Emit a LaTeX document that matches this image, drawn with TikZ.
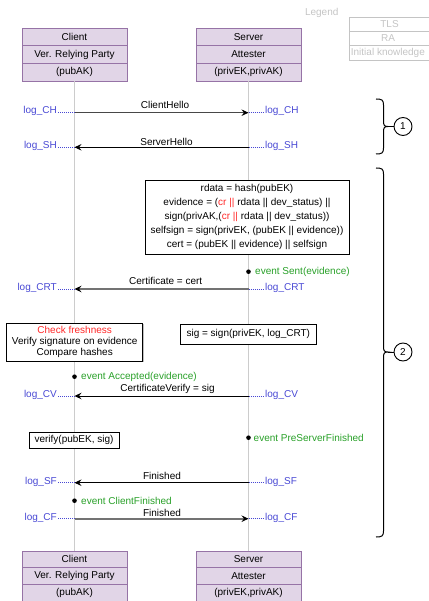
\documentclass[tikz,border=0pt]{standalone}
\usepackage{fontspec}
\setmainfont{Liberation Sans}
\usetikzlibrary{arrows.meta,shadows,calc}
\definecolor{hdrfill}{HTML}{E1D5E7}
\definecolor{hdrdraw}{HTML}{9673A6}
\definecolor{logblue}{RGB}{72,72,212}
\definecolor{evgreen}{RGB}{40,160,40}
\definecolor{hotred}{RGB}{255,40,40}
\definecolor{lifegray}{HTML}{CCCCCC}
\definecolor{legendgray}{HTML}{C4C4C4}
\newcommand{\rcr}{\textcolor{hotred}{cr ||}}
\begin{document}
\begin{tikzpicture}[x=1pt,y=-1pt,
  font=\fontsize{10}{12}\selectfont,
  hdr/.style={draw=hdrdraw, fill=hdrfill, line width=0.8pt, minimum width=105pt, inner sep=0pt},
  lifeline/.style={draw=lifegray, line width=1pt},
  msgblack/.style={draw=black, line width=0.9pt, -{Stealth[length=7pt,width=6.5pt,inset=2.5pt,color=black]}},
  msgdark/.style={draw=black!72, line width=0.9pt, -{Stealth[length=7pt,width=6.5pt,inset=2.5pt,color=black]}},
  msgthick/.style={draw=black!55, line width=1.8pt, -{Stealth[length=7pt,width=6.5pt,inset=2.5pt,color=black]}},
  lbl/.style={inner sep=0pt},
  logtxt/.style={text=logblue, inner sep=0pt},
  logdots/.style={draw=logblue, line width=0.7pt, dash pattern=on 0.8pt off 1.2pt},
  evtxt/.style={text=evgreen, inner sep=0pt, anchor=west},
  note/.style={draw=black, fill=white, line width=0.9pt, inner sep=0pt, align=center,
    drop shadow={shadow xshift=1.2pt, shadow yshift=-1.2pt, opacity=0.25, fill=black}},
  legendrow/.style={draw=legendgray, minimum width=83pt, minimum height=14.33pt, inner sep=0pt},
  legendtxt/.style={text=legendgray, inner sep=0pt},
  bracepath/.style={draw=black, line width=1pt},
  stepnum/.style={draw=black, circle, line width=0.9pt, minimum size=18pt, inner sep=0pt}
]
\useasboundingbox (0,0) rectangle (428,601);

% legend
\node[legendtxt] (legend) at (321.7,13) {Legend};
\node[legendrow] (lgTLS)  at (390.5,24.2) {};
\node[legendrow] (lgRA)   at (390.5,38.5) {};
\node[legendrow] (lgInit) at (390.5,52.8) {};
\node[legendtxt] (lgTLSt) at (389.5,24.2) {TLS};
\node[legendtxt] (lgRAt)  at (388,38.5) {RA};
\node[legendtxt, anchor=west] (lgInitt) at (350.7,52.8) {Initial knowledge};

% participant headers (top)
\begin{scope}[every node/.append style={minimum height=17.67pt}]
  \node[hdr] (cl1) at (74.5,36.8) {Client};
  \node[hdr] (cl2) at (74.5,54.5) {Ver. Relying Party};
  \node[hdr] (cl3) at (74.5,72.2) {(pubAK)};
  \node[hdr] (sv1) at (248.5,36.8) {Server};
  \node[hdr] (sv2) at (248.5,54.5) {Attester};
  \node[hdr] (sv3) at (248.5,72.2) {(privEK,privAK)};
\end{scope}
% participant footers (bottom)
\begin{scope}[every node/.append style={minimum height=16.67pt}]
  \node[hdr] (bcl1) at (74.5,559.3) {Client};
  \node[hdr] (bcl2) at (74.5,576) {Ver. Relying Party};
  \node[hdr] (bcl3) at (74.5,592.7) {(pubAK)};
  \node[hdr] (bsv1) at (248.5,559.3) {Server};
  \node[hdr] (bsv2) at (248.5,576) {Attester};
  \node[hdr] (bsv3) at (248.5,592.7) {(privEK,privAK)};
\end{scope}

% lifelines
\draw[lifeline] (cl3.south) -- (bcl1.north);
\draw[lifeline] (sv3.south) -- (bsv1.north);

% message anchor points on the lifelines
\foreach \n/\y in {CH/112.7, SH/147.3, CRT/289, CV/396, SF/482.7, CF/518.7}{
  \coordinate (c\n) at (74.5,\y);
  \coordinate (s\n) at (248.5,\y);
}

% boxes with computations
\node[note, minimum width=204pt, minimum height=74pt, font=\fontsize{10}{14}\selectfont] (evbox) at (247,217)
  {rdata = hash(pubEK)\\
   evidence = (\rcr{} rdata || dev\_status) ||\\
   sign(privAK,(\rcr{} rdata || dev\_status))\\
   selfsign = sign(privEK, (pubEK || evidence))\\
   cert = (pubEK || evidence) || selfsign};
\node[note, minimum width=136pt, minimum height=38pt, font=\fontsize{10}{11.3}\selectfont] (chkbox) at (74.7,342)
  {\textcolor{hotred}{Check freshness}\\
   Verify signature on evidence\\
   Compare hashes};
\node[note, minimum width=135.3pt, minimum height=20pt] (sigbox) at (248.3,334) {sig = sign(privEK, log\_CRT)};
\node[note, minimum width=90pt, minimum height=15.3pt] (vfybox) at (74,440.3) {verify(pubEK, sig)};

% messages
\draw[msgdark]  (cCH) -- (sCH);
\node[lbl] (tCH) at (165,105) {ClientHello};
\draw[msgblack] (sSH) -- (cSH);
\node[lbl] (tSH) at (166.5,141.7) {ServerHello};
\draw[msgthick] (sCRT) -- (cCRT);
\node[lbl] (tCRT) at (165.7,281) {Certificate = cert};
\draw[msgblack] (sCV) -- (cCV);
\node[lbl] (tCV) at (167.5,388.7) {CertificateVerify = sig};
\draw[msgblack] (sSF) -- (cSF);
\node[lbl] (tSF) at (162,476) {Finished};
\draw[msgthick] (cCF) -- (sCF);
\node[lbl] (tCF) at (162,512.7) {Finished};

% transcript labels
\foreach \n/\t in {CH/log\_CH, SH/log\_SH, CRT/log\_CRT, CV/log\_CV, SF/log\_SF, CF/log\_CF}{
  \node[logtxt, anchor=base east] (l\n) at ($(c\n)+(-17.5,1.3)$) {\t};
  \draw[logdots] ($(l\n.east |- c\n)+(1,0)$) -- (c\n);
  \node[logtxt, anchor=base west] (r\n) at ($(s\n)+(16.5,1.3)$) {\t};
  \draw[logdots] (s\n) -- ($(r\n.west |- s\n)+(-1,0)$);
}

% events
\coordinate (eSent) at (248.5,271.7);
\fill (eSent) circle (2.3);
\node[evtxt] (tSent) at (255,271.7) {event Sent(evidence)};
\coordinate (eAcc) at (74.5,376.7);
\fill (eAcc) circle (2.3);
\node[evtxt] (tAcc) at (81,376.7) {event Accepted(evidence)};
\coordinate (ePSF) at (248.5,437.7);
\fill (ePSF) circle (2.3);
\node[evtxt] (tPSF) at (253.5,437.7) {event PreServerFinished};
\coordinate (eCF) at (74.5,500.7);
\fill (eCF) circle (2.3);
\node[evtxt] (tCFev) at (81,500.7) {event ClientFinished};

% phase braces
\coordinate (b1tip) at (388,126.5);
\draw[bracepath] (376,99) .. controls (382,99) and (383.5,100) .. (383.5,105) -- (383.5,121)
  .. controls (383.5,125) and (384,126.5) .. (b1tip)
  .. controls (384,126.5) and (383.5,128) .. (383.5,132) -- (383.5,148)
  .. controls (383.5,153) and (382,154) .. (376,154);
\node[stepnum] (n1) at (403,126.5) {1};
\draw[bracepath] (b1tip) -- (n1);

\coordinate (b2tip) at (388,352);
\draw[bracepath] (376,168) .. controls (382,168) and (383.5,169) .. (383.5,174) -- (383.5,346.5)
  .. controls (383.5,350.5) and (384,352) .. (b2tip)
  .. controls (384,352) and (383.5,353.5) .. (383.5,357.5) -- (383.5,531)
  .. controls (383.5,536) and (382,537) .. (376,537);
\node[stepnum] (n2) at (403,352) {2};
\draw[bracepath] (b2tip) -- (n2);
\end{tikzpicture}
\end{document}
